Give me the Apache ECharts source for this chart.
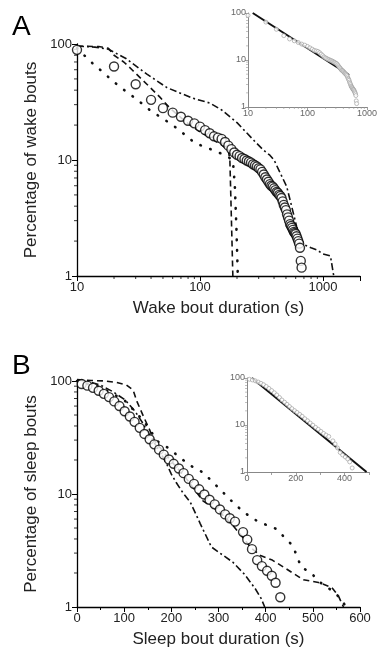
<!DOCTYPE html>
<html><head><meta charset="utf-8">
<script src="https://cdn.jsdelivr.net/npm/echarts@6/dist/echarts.min.js"></script>
<style>html,body{margin:0;padding:0;background:#fff}#c{width:380px;height:649px}</style>
</head><body><div id="c"></div>
<script>
// ---------- Panel A (wake) ----------
const wakeCircles = [[10,89],[20,64],[30,45],[40,33],[50,28],[60,25.6],[70,23.6],[80,21.8],[90,20.7],[100,19.4],[110,18.1],[120,17],[130,16],[140,15.6],[150,15.2],[160,14.3],[170,13.3],[180,12.4],[190,11.6],[200,11.1],[210,10.8],[220,10.4],[230,10.2],[240,9.9],[250,9.7],[260,9.5],[270,9.2],[280,9],[290,8.8],[300,8.5],[310,8.3],[320,7.9],[330,7.5],[340,7.1],[350,6.8],[360,6.5],[370,6.2],[380,6],[390,5.9],[400,5.7],[410,5.5],[420,5.3],[430,5.2],[440,5],[450,4.9],[460,4.7],[470,4.4],[480,4.1],[490,3.9],[500,3.7],[510,3.4],[520,3.2],[530,3.0],[540,2.8],[550,2.7],[560,2.6],[570,2.5],[580,2.4],[590,2.35],[600,2.3],[610,2.2],[620,2.1],[630,2.0],[640,1.9],[650,1.75],[660,1.35],[670,1.18]];
const wakeDashDot = [[10,96],[14,94],[18,90],[25,75],[37,55],[54,42],[88,34],[120,31],[150,27],[200,21],[270,15],[327,12.2],[370,11],[400,10],[450,7.7],[507,5.9],[556,4],[611,2.66],[671,2.04],[713,1.85],[800,1.75],[890,1.68],[1000,1.55],[1150,1.49],[1214,1.05],[1225,1.0]];
const wakeDashed = [[10,96],[15,95],[18,92],[20,80],[24,70],[28,60],[37,45],[47,35],[57,28],[78,21],[100,17.5],[127,15],[150,13.5],[170,12],[175,10],[178,5],[182,2],[185,1]];
const wakeDotted = [[10,92],[13,70],[16,58],[20,47],[25,39],[31,33],[39,27],[49,23],[60,20],[76,16.4],[91,14],[113,12.8],[137,11.8],[160,11],[185,10],[192,6],[198,2.5],[203,1]];
const wakeFit = [[12,100],[500,4.8]];
const wakeXTickLabels = [10,100,1000];
const pctTickLabels = [1,10,100];
const logMinorX = [20,30,40,50,60,70,80,90,200,300,400,500,600,700,800,900];
const logMinorY = [2,3,4,5,6,7,8,9,20,30,40,50,60,70,80,90];

// ---------- Panel B (sleep) ----------
const sleepCircles = [[10,94],[22,91],[34,87],[46,82],[57,77],[68,72],[79,66],[90,60],[101,54],[112,48.5],[122,43.5],[133,38.5],[143,34],[154,30.5],[164,27.5],[174,24.7],[184,22.3],[195,20.2],[205,18.5],[216,16.8],[226,15.3],[237,13.6],[248,12.3],[259,11],[270,9.9],[281,8.9],[292,8.1],[303,7.3],[314,6.6],[324,6.1],[335,5.7],[352,4.6],[361,3.95],[371,3.25],[382,2.6],[392,2.3],[403,2.09],[413,1.89],[421,1.64],[431,1.22]];
const sleepDashDot = [[0,102],[20,100],[50,92],[77,80],[102,68],[123,54],[140,42],[158,31],[175,24],[190,18.5],[200,15],[211,12.5],[225,10.2],[240,8.5],[261,5.5],[285,3.4],[303,3.0],[330,2.5],[355,1.95],[378,1.45],[390,1.2],[398,1.0]];
const sleepDashed = [[0,103],[30,101],[60,100],[84,97],[105,92],[119,83],[127,66],[141,48.5],[154,37],[161,31],[175,26],[200,19.5],[230,14],[267,8.7],[303,6.9],[330,5.3],[350,4.2],[370,3.3],[389,2.85],[414,2.6],[445,2.16],[480,1.74],[512,1.65],[540,1.49],[554,1.26],[565,1.0]];
const sleepDotted = [[0,100],[50,88],[100,68],[140,45],[172,29],[197,25],[218,21],[243,17.6],[268,15.4],[289,12.6],[311,10.2],[331,8.4],[352,7],[374,6.0],[398,5.4],[423,4.9],[443,4.0],[458,3.47],[467,2.74],[476,2.24],[497,2.0],[511,1.7],[536,1.44],[550,1.3],[564,1.1],[571,1.0]];
const sleepFit = [[20,100],[490,1]];
const sleepXTickLabels = [0,100,200,300,400,500,600];
const insetSleepXTickLabels = [0,200,400];

const FONT = '"Liberation Sans", Arial, sans-serif';
const chart = echarts.init(document.getElementById('c'), null, {renderer:'canvas'});

function labelFmt(list){ return function(v){ const r = Math.round(v*1000)/1000; return list.indexOf(Math.round(r)) >= 0 && Math.abs(r-Math.round(r))<1e-6 ? String(Math.round(r)) : ''; }; }

function mainAxis(opts){
  return Object.assign({
    axisLine:{show:true, onZero:false, lineStyle:{color:'#000', width:1.3}},
    axisTick:{show:true, length:5, lineStyle:{color:'#000', width:1}},
    axisLabel:{fontSize:13, color:'#222', fontFamily:FONT, margin:5},
    splitLine:{show:false},
    nameLocation:'middle',
    nameTextStyle:{fontSize:17, color:'#222', fontFamily:FONT}
  }, opts);
}
function insetAxis(opts){
  return Object.assign({
    axisLine:{show:true, onZero:false, lineStyle:{color:'#888', width:1}},
    axisTick:{show:true, length:3, lineStyle:{color:'#888', width:0.8}},
    axisLabel:{fontSize:9, color:'#666', fontFamily:FONT, margin:2},
    splitLine:{show:false}
  }, opts);
}
function lineSeries(data, xi, yi, dash, w, cap){
  return {type:'line', data:data, xAxisIndex:xi, yAxisIndex:yi, showSymbol:false, symbol:'none', clip:false,
    lineStyle:{color:'#111', width:w||1.6, type:dash, cap:cap||'butt'}, z:3, silent:true, animation:false};
}
function circleSeries(data, xi, yi, size, color, bw){
  return {type:'scatter', data:data, xAxisIndex:xi, yAxisIndex:yi, symbol:'circle', symbolSize:size, clip:false,
    itemStyle:{color:'#fff', borderColor:color, borderWidth:bw}, z:5, silent:true, animation:false};
}
function tickSeries(data, xi, yi, size, offset, color){
  return {type:'scatter', data:data, xAxisIndex:xi, yAxisIndex:yi, symbol:'rect', symbolSize:size, symbolOffset:offset, clip:false,
    itemStyle:{color:color}, z:2, silent:true, animation:false};
}

const option = {
  backgroundColor:'#fff',
  animation:false,
  title:[
    {text:'A', left:7, top:8, textStyle:{fontSize:28, fontWeight:'normal', color:'#000', fontFamily:FONT}},
    {text:'B', left:7, top:347, textStyle:{fontSize:28, fontWeight:'normal', color:'#000', fontFamily:FONT}}
  ],
  grid:[
    {left:77, top:44, width:283, height:232},
    {left:248, top:13, width:122, height:94},
    {left:77, top:381, width:283, height:227},
    {left:247, top:378, width:122, height:94}
  ],
  xAxis:[
    mainAxis({gridIndex:0, type:'log', logBase:10, min:10, max:2000, name:'Wake bout duration (s)', nameGap:24,
      axisLabel:{fontSize:13, color:'#222', fontFamily:FONT, margin:5, formatter:labelFmt(wakeXTickLabels)}}),
    insetAxis({gridIndex:1, type:'log', logBase:10, min:10, max:1000,
      axisLabel:{fontSize:9, color:'#666', fontFamily:FONT, margin:2, formatter:labelFmt(wakeXTickLabels)}}),
    mainAxis({gridIndex:2, type:'value', min:0, max:600, interval:100, name:'Sleep bout duration (s)', nameGap:24,
      minorTick:{show:true, splitNumber:2, length:3, lineStyle:{color:'#000'}},
      axisLabel:{fontSize:13, color:'#222', fontFamily:FONT, margin:5, formatter:labelFmt(sleepXTickLabels)}}),
    insetAxis({gridIndex:3, type:'value', min:0, max:500, interval:100,
      axisLabel:{fontSize:9, color:'#666', fontFamily:FONT, margin:2, formatter:labelFmt(insetSleepXTickLabels)}})
  ],
  yAxis:[
    mainAxis({gridIndex:0, type:'log', logBase:10, min:1, max:100, name:'Percentage of wake bouts', nameGap:34,
      axisLabel:{fontSize:13, color:'#222', fontFamily:FONT, margin:5, formatter:labelFmt(pctTickLabels)}}),
    insetAxis({gridIndex:1, type:'log', logBase:10, min:1, max:100,
      axisLabel:{fontSize:9, color:'#666', fontFamily:FONT, margin:2, formatter:labelFmt(pctTickLabels)}}),
    mainAxis({gridIndex:2, type:'log', logBase:10, min:1, max:100, name:'Percentage of sleep bouts', nameGap:34,
      axisLabel:{fontSize:13, color:'#222', fontFamily:FONT, margin:5, formatter:labelFmt(pctTickLabels)}}),
    insetAxis({gridIndex:3, type:'log', logBase:10, min:1, max:100,
      axisLabel:{fontSize:9, color:'#666', fontFamily:FONT, margin:2, formatter:labelFmt(pctTickLabels)}})
  ],
  series:[
    // minor ticks on log axes
    tickSeries(logMinorX.map(v=>[v,1]), 0, 0, [1,3], [0,1.5], '#000'),
    tickSeries(logMinorY.map(v=>[10,v]), 0, 0, [3,1], [-1.5,0], '#000'),
    tickSeries(logMinorY.map(v=>[0,v]), 2, 2, [3,1], [-1.5,0], '#000'),
    tickSeries(logMinorX.map(v=>[v,1]), 1, 1, [0.8,2], [0,1], '#999'),
    tickSeries(logMinorY.map(v=>[10,v]), 1, 1, [2,0.8], [-1,0], '#999'),
    tickSeries(logMinorY.map(v=>[0,v]), 3, 3, [2,0.8], [-1,0], '#999'),
    // panel A
    lineSeries(wakeDashDot, 0, 0, [7,3,2,3], 1.6),
    lineSeries(wakeDashed, 0, 0, [6,4], 1.6),
    lineSeries(wakeDotted, 0, 0, [0.5,10], 2.6, 'round'),
    circleSeries(wakeCircles, 0, 0, 9, '#000', 1.4),
    circleSeries(wakeCircles, 1, 1, 4, '#999', 0.8),
    lineSeries(wakeFit, 1, 1, 'solid', 2),
    // panel B
    lineSeries(sleepDashDot, 2, 2, [7,3,2,3], 1.6),
    lineSeries(sleepDashed, 2, 2, [6,4], 1.6),
    lineSeries(sleepDotted, 2, 2, [0.5,10], 2.6, 'round'),
    circleSeries(sleepCircles, 2, 2, 9, '#000', 1.4),
    circleSeries(sleepCircles, 3, 3, 4, '#999', 0.8),
    lineSeries(sleepFit, 3, 3, 'solid', 2)
  ]
};
chart.setOption(option);
</script></body></html>
